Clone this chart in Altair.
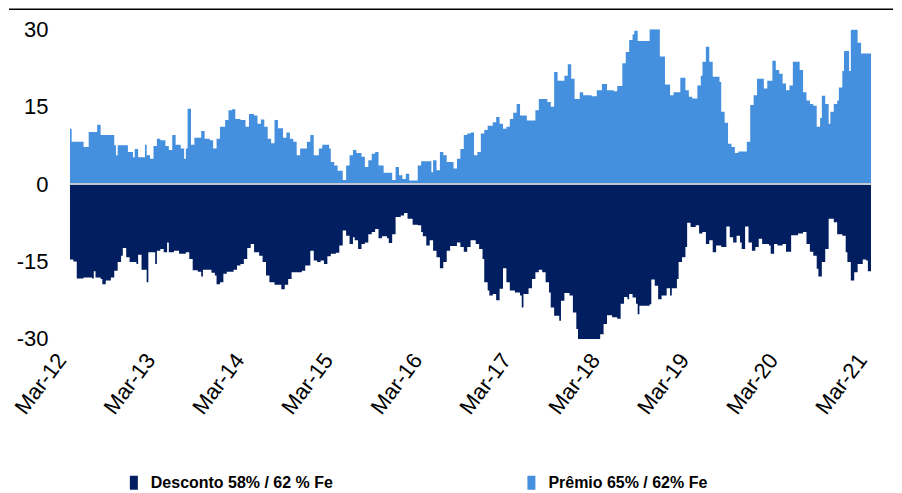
import datetime as dt
import pandas as pd
import altair as alt

START = dt.date(2012, 3, 1)

SERIES_NAMES = ["Desconto 58% / 62 % Fe", "Prêmio 65% / 62% Fe"]
COLORS = ["#001E60", "#4590DE"]

PREMIO_WEEK = [0, 1, 8, 11, 16, 18, 26, 27, 28, 34, 37, 38, 40, 44, 45, 47, 49, 51, 53, 56,
               58, 60, 62, 65, 67, 68, 69, 71, 73, 77, 79, 82, 84, 86, 88, 91, 93, 95, 97, 100,
               103, 105, 108, 110, 112, 114, 116, 118, 120, 122, 125, 127, 129, 131, 133, 135,
               139, 141, 143, 146, 148, 152, 153, 155, 157, 160, 162, 164, 166, 168, 171, 173,
               175, 177, 179, 181, 184, 189, 191, 193, 195, 197, 199, 204, 206, 212, 213, 215,
               217, 219, 221, 223, 225, 227, 229, 231, 233, 235, 237, 239, 241, 243, 245, 248,
               250, 252, 254, 256, 258, 260, 262, 264, 268, 273, 275, 280, 282, 284, 286, 290,
               292, 294, 296, 299, 301, 306, 309, 312, 315, 319, 321, 324, 326, 328, 330, 331,
               333, 340, 346, 349, 352, 354, 358, 361, 363, 365, 368, 370, 371, 373, 375, 377,
               381, 382, 384, 386, 388, 390, 392, 397, 399, 401, 403, 407, 409, 412, 414, 416,
               418, 420, 422, 424, 428, 430, 432, 434, 436, 438, 440, 441, 443, 445, 446, 448,
               450, 451, 453, 454, 457, 458, 462, 464, 470]
PREMIO_VAL = [10.7, 8.2, 7.2, 10.1, 11.5, 9.5, 7.5, 5.6, 7.5, 6.2, 5.2, 6.8, 5.2, 7.6, 5.6, 4.9,
              7.4, 8.8, 8.5, 7.4, 6.6, 9.5, 7.6, 6.9, 4.9, 6.9, 14.6, 7.6, 9.0, 10.3, 8.8, 8.5,
              6.9, 8.8, 11.1, 12.4, 14.3, 14.5, 12.6, 12.4, 11.1, 13.6, 13.3, 11.7, 12.5, 11.1,
              8.8, 7.9, 12.4, 10.8, 9.0, 10.0, 8.8, 8.2, 5.6, 6.9, 8.2, 9.5, 5.6, 6.9, 7.6, 6.9,
              4.3, 3.6, 2.6, 0.8, 3.6, 5.6, 6.6, 6.0, 5.3, 3.3, 4.6, 5.9, 6.2, 3.6, 2.2, 0.8,
              3.3, 1.7, 1.0, 2.0, 0.7, 3.6, 4.4, 2.3, 4.6, 2.7, 6.2, 5.6, 4.3, 4.3, 3.0, 4.9,
              6.8, 9.5, 9.8, 10.0, 5.6, 6.2, 9.8, 10.5, 11.3, 12.0, 13.0, 11.7, 10.7, 11.1, 12.6,
              13.8, 15.5, 13.3, 12.3, 14.3, 16.5, 15.9, 15.0, 21.7, 20.0, 21.0, 23.2, 20.4, 16.5,
              17.8, 17.2, 17.0, 18.2, 19.4, 18.2, 18.0, 19.0, 23.4, 25.6, 27.9, 29.0, 29.7, 27.7,
              30.0, 24.7, 19.3, 17.2, 17.8, 20.6, 18.2, 16.9, 16.6, 19.1, 21.0, 23.7, 26.6, 23.7,
              20.8, 19.8, 14.0, 11.9, 7.8, 7.2, 6.0, 6.3, 8.2, 15.3, 17.2, 20.4, 18.5, 20.0, 23.9,
              22.1, 21.4, 19.5, 18.2, 19.1, 23.7, 22.1, 17.8, 16.2, 15.5, 15.2, 11.1, 12.8, 17.1,
              15.5, 11.7, 14.0, 15.5, 16.2, 18.7, 21.9, 25.8, 21.9, 29.9, 27.4, 25.3, 25.3]

DESCONTO_WEEK = [0, 2, 4, 8, 13, 14, 15, 18, 19, 21, 24, 26, 28, 30, 31, 33, 35, 39, 40, 42,
                 45, 46, 50, 51, 53, 55, 57, 58, 61, 64, 68, 70, 72, 75, 77, 78, 83, 85, 86, 88,
                 90, 92, 96, 98, 100, 102, 104, 106, 108, 111, 113, 115, 117, 120, 124, 126, 128,
                 130, 136, 138, 141, 143, 145, 147, 149, 151, 153, 156, 158, 160, 162, 164, 166,
                 167, 169, 171, 173, 175, 177, 179, 181, 183, 186, 187, 189, 191, 194, 196, 198,
                 201, 204, 206, 207, 209, 211, 213, 215, 217, 219, 221, 223, 227, 229, 231, 233,
                 235, 238, 240, 242, 243, 245, 246, 248, 250, 252, 254, 256, 258, 261, 264, 265,
                 266, 269, 271, 273, 275, 277, 279, 281, 282, 284, 287, 288, 290, 293, 295, 297,
                 298, 311, 313, 315, 318, 321, 323, 325, 327, 328, 330, 332, 333, 334, 340, 341,
                 343, 345, 347, 350, 352, 353, 356, 357, 359, 361, 362, 364, 367, 369, 371, 373,
                 375, 377, 379, 382, 385, 387, 389, 391, 393, 394, 396, 398, 400, 402, 404, 406,
                 410, 411, 413, 415, 418, 420, 423, 427, 430, 432, 434, 436, 438, 439, 441, 443,
                 445, 448, 450, 453, 455, 456, 458, 460, 462, 465, 467, 468, 470]
DESCONTO_VAL = [-14.6, -15.0, -18.3, -18.1, -18.3, -16.9, -18.1, -18.4, -19.4, -18.7, -18.1,
                -16.8, -15.1, -13.9, -12.4, -14.2, -15.1, -15.5, -13.7, -16.6, -19.0, -13.2,
                -15.5, -12.9, -12.6, -13.2, -11.3, -13.2, -12.9, -13.5, -13.2, -14.5, -16.7,
                -17.0, -17.9, -16.6, -17.2, -17.7, -19.4, -19.0, -17.4, -17.0, -16.6, -15.8,
                -15.5, -14.5, -12.4, -11.6, -13.2, -13.9, -15.1, -17.7, -19.0, -19.5, -20.4,
                -19.5, -18.4, -17.1, -16.8, -15.8, -12.9, -14.8, -15.1, -14.8, -15.5, -14.0,
                -13.5, -13.3, -11.9, -9.0, -10.0, -11.6, -10.3, -10.9, -12.6, -11.6, -11.3,
                -9.7, -9.3, -8.7, -10.5, -10.1, -10.5, -11.4, -9.7, -6.4, -6.1, -5.6, -6.7,
                -7.9, -8.0, -9.3, -10.1, -11.9, -10.9, -12.9, -14.2, -16.3, -15.1, -12.9, -12.0,
                -11.3, -12.2, -13.1, -12.2, -10.9, -11.6, -12.6, -14.5, -19.0, -20.6, -21.6,
                -21.3, -22.5, -20.3, -16.3, -19.0, -20.6, -21.0, -21.6, -23.9, -21.3, -20.2,
                -18.4, -17.1, -16.6, -17.1, -19.0, -21.0, -23.9, -25.5, -26.5, -22.6, -21.1,
                -21.6, -24.9, -28.1, -30.0, -29.1, -27.1, -25.4, -25.8, -26.1, -23.2, -21.9,
                -22.3, -21.3, -22.0, -23.2, -25.2, -23.6, -23.3, -18.5, -19.7, -22.3, -21.6,
                -20.2, -21.6, -20.2, -18.4, -15.1, -14.2, -12.2, -7.5, -8.3, -8.0, -9.6, -9.3,
                -11.6, -10.9, -13.2, -11.9, -12.2, -8.2, -10.3, -11.3, -10.0, -11.3, -12.6,
                -8.2, -11.3, -12.9, -12.2, -10.6, -11.6, -11.9, -13.5, -11.6, -11.9, -11.6,
                -13.1, -9.9, -9.6, -9.3, -11.6, -13.1, -13.9, -16.4, -17.9, -15.1, -12.6, -6.7,
                -7.4, -9.7, -10.0, -13.2, -15.1, -18.7, -17.1, -15.5, -14.6, -14.8, -16.9, -16.9]

Y_TICKS = [-30, -15, 0, 15, 30]
X_TICK_YEARS = list(range(2012, 2022))

rows = []
for name, weeks, vals in [(SERIES_NAMES[0], DESCONTO_WEEK, DESCONTO_VAL),
                          (SERIES_NAMES[1], PREMIO_WEEK, PREMIO_VAL)]:
    for w, v in zip(weeks, vals):
        rows.append({"date": pd.Timestamp(START + dt.timedelta(weeks=w)), "value": v, "serie": name})
df = pd.DataFrame(rows)

FONT = "Liberation Sans"
W, H = 802, 310

x_enc = alt.X(
    "date:T",
    title=None,
    scale=alt.Scale(domain=[alt.DateTime(year=2012, month=3, date=1),
                            alt.DateTime(year=2021, month=3, date=3)]),
    axis=alt.Axis(
        values=[alt.DateTime(year=y, month=3, date=1) for y in X_TICK_YEARS],
        format="%b-%y", labelAngle=-53, labelAlign="right", labelBaseline="alphabetic",
        labelFont=FONT, labelFontSize=22, labelColor="black", labelPadding=21,
        labelOffset=-3,
        domain=False, ticks=False, tickSize=0, grid=False, labelOverlap=False,
    ),
)
y_enc = alt.Y(
    "value:Q", stack=None, title=None,
    scale=alt.Scale(domain=[-30, 30], nice=False, zero=True),
    axis=alt.Axis(values=Y_TICKS, labelExpr="'' + datum.value",
                  labelFont=FONT, labelFontSize=22, labelColor="black",
                  labelPadding=22, domain=False, ticks=False, tickSize=0, grid=False),
)

areas = alt.Chart(df).mark_area(interpolate="step-after", clip=True).encode(
    x=x_enc,
    y=y_enc,
    color=alt.Color(
        "serie:N",
        scale=alt.Scale(domain=SERIES_NAMES, range=COLORS),
        legend=alt.Legend(
            title=None, orient="none", legendX=56, legendY=446, direction="horizontal",
            columns=2, columnPadding=190,
            symbolType="M-0.57,-1H0.57V1H-0.57Z", symbolSize=196, symbolStrokeWidth=0,
            symbolOpacity=1,
            labelFont=FONT, labelFontSize=16, labelFontWeight="bold", labelColor="black",
            labelOffset=9, labelLimit=400, padding=0,
        ),
    ),
)

zero = alt.Chart(pd.DataFrame({"z": [0]})).mark_rule(color="#C3C8D2", strokeWidth=2).encode(
    y="z:Q"
)

top_line = alt.Chart(pd.DataFrame({"z": [0]})).mark_rule(color="black", strokeWidth=1.5).encode(
    x=alt.value(-61), x2=alt.value(824), y=alt.value(-20)
)

chart = alt.layer(areas, zero, top_line).properties(
    width=W, height=H, padding=0
).configure_view(stroke=None)

chart.save("out.html", embed_options={"renderer": "svg", "actions": False})
